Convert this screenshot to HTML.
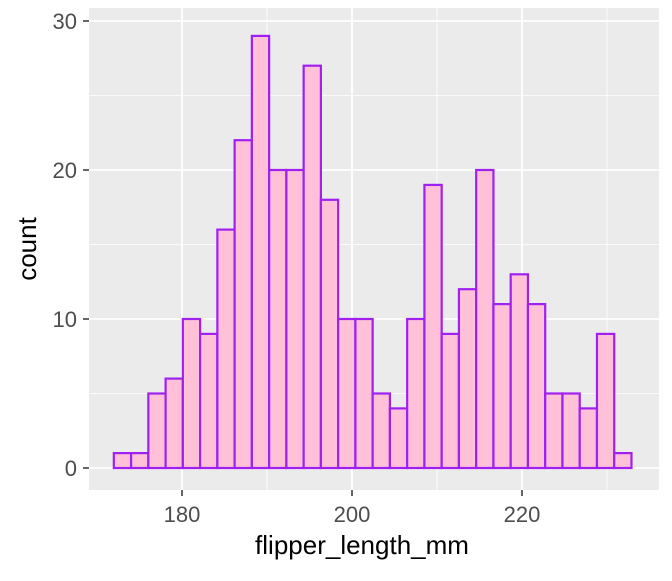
<!DOCTYPE html>
<html><head><meta charset="utf-8"><style>
body{margin:0;background:#fff;font-family:"Liberation Sans",Arial,sans-serif}
</style></head><body>
<svg width="672" height="576" xmlns="http://www.w3.org/2000/svg">
<rect x="89" y="8" width="570" height="482" fill="#ebebeb"/>
<g id="grid"></g>
<g id="bars"></g>
<g id="axes"></g>
<text x="362" y="554" font-size="26" text-anchor="middle" fill="#000">flipper_length_mm</text>
<text transform="translate(36,249) rotate(-90)" font-size="26" text-anchor="middle" fill="#000">count</text>
</svg>
<script>
const binStart = 171.98;
const binWidth = 2.03;
const counts = [1,1,5,6,10,9,16,22,29,20,20,27,18,10,10,5,4,10,19,9,12,20,11,13,11,5,5,4,9,1];
const xTicks = [180,200,220];
const xMinor = [190,210,230];
const yTicks = [0,10,20,30];
const yMinor = [5,15,25];
const NS="http://www.w3.org/2000/svg";
const PL=89,PR=659,PT=8,PB=490;
const xs=v=>182+(v-180)*8.5;
const ys=v=>468-v*14.9;
function mk(tag,attrs,parent,text){const e=document.createElementNS(NS,tag);for(const k in attrs)e.setAttribute(k,attrs[k]);if(text!==undefined)e.textContent=text;document.getElementById(parent).appendChild(e);return e;}
xMinor.forEach(v=>{const e=mk('line',{x1:xs(v),x2:xs(v),y1:PT,y2:PB,stroke:'#fff','stroke-width':0.8},'grid');

});
yMinor.forEach(v=>{const e=mk('line',{x1:PL,x2:PR,y1:ys(v),y2:ys(v),stroke:'#fff','stroke-width':0.8},'grid');

});
xTicks.forEach(v=>{const e=mk('line',{x1:xs(v),x2:xs(v),y1:PT,y2:PB,stroke:'#fff','stroke-width':1.8},'grid');


const t=mk('line',{x1:xs(v),x2:xs(v),y1:PB,y2:PB+6,stroke:'#333','stroke-width':1.5},'axes');


const l=mk('text',{x:xs(v),y:PB+32,'font-size':22,'text-anchor':'middle',fill:'#4d4d4d'},'axes',v);

});
yTicks.forEach(v=>{const e=mk('line',{x1:PL,x2:PR,y1:ys(v),y2:ys(v),stroke:'#fff','stroke-width':1.8},'grid');


const t=mk('line',{x1:PL-6,x2:PL,y1:ys(v),y2:ys(v),stroke:'#333','stroke-width':1.5},'axes');


const l=mk('text',{x:PL-12,y:ys(v)+8,'font-size':22,'text-anchor':'end',fill:'#4d4d4d'},'axes',v);

});
counts.forEach((c,i)=>{const x0=xs(binStart+i*binWidth),x1=xs(binStart+(i+1)*binWidth);
const r=mk('rect',{x:x0,y:ys(c),width:x1-x0,height:ys(0)-ys(c),fill:'#ffc0d8',stroke:'#a020f0','stroke-width':2.2},'bars');

});
</script>
</body></html>
